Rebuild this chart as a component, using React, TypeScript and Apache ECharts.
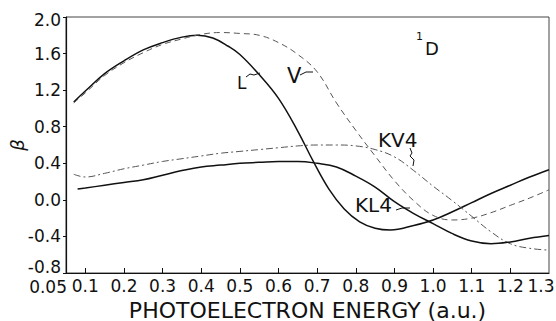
import React, { useEffect, useRef } from "react";
import * as echarts from "echarts";

// ---- data ----
const L_X = [0.07, 0.1, 0.15, 0.2, 0.25, 0.3, 0.35, 0.39, 0.43, 0.47, 0.5, 0.55, 0.6, 0.65, 0.69, 0.73, 0.77, 0.81, 0.85, 0.89, 0.95, 1.0, 1.05, 1.1, 1.15, 1.2, 1.25, 1.3];
const L_Y = [1.07, 1.19, 1.38, 1.52, 1.64, 1.72, 1.78, 1.8, 1.77, 1.68, 1.59, 1.37, 1.11, 0.75, 0.42, 0.12, -0.1, -0.24, -0.31, -0.33, -0.28, -0.22, -0.13, -0.03, 0.07, 0.16, 0.25, 0.33];

const V_X = [0.07, 0.1, 0.15, 0.2, 0.25, 0.3, 0.35, 0.4, 0.45, 0.5, 0.55, 0.6, 0.65, 0.7, 0.75, 0.8, 0.85, 0.9, 0.95, 1.0, 1.05, 1.1, 1.15, 1.2, 1.25, 1.3];
const V_Y = [1.06, 1.17, 1.36, 1.5, 1.61, 1.7, 1.76, 1.81, 1.83, 1.82, 1.8, 1.72, 1.59, 1.4, 1.06, 0.76, 0.48, 0.21, -0.01, -0.17, -0.22, -0.2, -0.14, -0.06, 0.02, 0.11];

const KV4_X = [0.07, 0.1, 0.15, 0.2, 0.25, 0.3, 0.35, 0.4, 0.45, 0.5, 0.55, 0.6, 0.65, 0.7, 0.75, 0.8, 0.85, 0.9, 0.95, 1.0, 1.05, 1.1, 1.15, 1.2, 1.25, 1.3];
const KV4_Y = [0.28, 0.25, 0.29, 0.34, 0.38, 0.42, 0.45, 0.48, 0.51, 0.53, 0.55, 0.57, 0.59, 0.6, 0.6, 0.59, 0.55, 0.47, 0.32, 0.15, -0.01, -0.18, -0.35, -0.48, -0.53, -0.55];

const KL4_X = [0.08, 0.1, 0.15, 0.2, 0.25, 0.3, 0.35, 0.4, 0.45, 0.5, 0.55, 0.6, 0.65, 0.7, 0.75, 0.8, 0.85, 0.9, 0.95, 1.0, 1.05, 1.1, 1.15, 1.2, 1.25, 1.3];
const KL4_Y = [0.12, 0.13, 0.16, 0.19, 0.22, 0.27, 0.32, 0.36, 0.38, 0.4, 0.41, 0.42, 0.42, 0.4, 0.36, 0.26, 0.14, -0.02, -0.15, -0.26, -0.37, -0.45, -0.48, -0.46, -0.42, -0.39];

const X_LABELS = [0.05, 0.1, 0.2, 0.3, 0.4, 0.5, 0.6, 0.7, 0.8, 0.9, 1.0, 1.1, 1.2, 1.3];
const X_TICKS = [0.1, 0.2, 0.3, 0.4, 0.5, 0.6, 0.7, 0.8, 0.9, 1.0, 1.1, 1.2];
const Y_MIN = -0.8;
const Y_MAX = 2.0;
const Y_STEP = 0.4;
const X_MIN = 0.05;
const X_MAX = 1.3;

const FONT = "DejaVu Sans";

function pairs(xs: number[], ys: number[]) {
  return xs.map((x, i) => [x, ys[i]]);
}

const near = (a: number, b: number) => Math.abs(a - b) < 1e-6;

export default function App() {
  const ref = useRef<HTMLDivElement>(null);
  useEffect(() => {
    if (!ref.current) return;
    const chart = echarts.init(ref.current, undefined, { renderer: "svg" });
    const ink = "#111";
    const dashInk = "#555";
    const labelFont = { fontFamily: FONT, fontSize: 17, color: ink };
    chart.setOption({
      animation: false,
      backgroundColor: "#fff",
      grid: {
        left: 66,
        top: 17,
        right: 7,
        bottom: 48,
        containLabel: false,
        outerBoundsMode: "none",
        show: true,
        borderColor: "#444",
        borderWidth: 1,
        backgroundColor: "transparent",
      },
      xAxis: {
        type: "value",
        min: X_MIN,
        max: X_MAX,
        name: "PHOTOELECTRON ENERGY (a.u.)",
        nameLocation: "middle",
        nameGap: 26,
        nameTextStyle: { fontFamily: FONT, fontSize: 22, color: ink },
        axisLine: { show: true, onZero: false, lineStyle: { color: ink, width: 1.2 } },
        axisTick: {
          show: true,
          inside: true,
          length: 5,
          customValues: X_TICKS,
          lineStyle: { color: ink },
        },
        axisLabel: {
          customValues: X_LABELS.filter((v) => v > X_MIN + 1e-6),
          showMinLabel: true,
          showMaxLabel: true,
          hideOverlap: false,
          margin: 4,
          ...labelFont,
          formatter: (v: number) => (near(v, X_MAX) ? `{last|${v.toFixed(1)}}` : v.toFixed(1)),
          rich: {
            last: { ...labelFont, padding: [0, 16, 0, 0] },
          },
        },
        splitLine: { show: false },
      },
      yAxis: {
        type: "value",
        min: Y_MIN,
        max: Y_MAX,
        interval: Y_STEP,
        name: "β",
        nameLocation: "middle",
        nameGap: 40,
        nameRotate: 90,
        nameMoveOverlap: false,
        nameTextStyle: { fontFamily: FONT, fontSize: 18, fontStyle: "italic", color: ink },
        axisLine: { show: true, onZero: false, lineStyle: { color: ink, width: 1.2 } },
        axisTick: { show: true, inside: false, length: 3, lineStyle: { color: ink } },
        axisLabel: {
          margin: 5,
          ...labelFont,
          showMinLabel: true,
          showMaxLabel: true,
          formatter: (v: number) => {
            const s = v.toFixed(1);
            if (near(v, Y_MAX)) return `{top|${s}}`;
            if (near(v, Y_MIN)) return `{bot|${s}}`;
            return s;
          },
          rich: {
            top: { ...labelFont, padding: [6, 0, 0, 0] },
            bot: { ...labelFont, padding: [0, 0, 13, 0] },
          },
        },
        splitLine: { show: false },
      },
      series: [
        {
          name: "L",
          type: "line",
          data: pairs(L_X, L_Y),
          smooth: 0.4,
          showSymbol: false,
          lineStyle: { color: ink, width: 1.5 },
        },
        {
          name: "V",
          type: "line",
          data: pairs(V_X, V_Y),
          smooth: 0.4,
          showSymbol: false,
          lineStyle: { color: dashInk, width: 1, type: [6, 4] },
        },
        {
          name: "KV4",
          type: "line",
          data: pairs(KV4_X, KV4_Y),
          smooth: 0.4,
          showSymbol: false,
          lineStyle: { color: dashInk, width: 1, type: [7, 3, 2, 3] },
        },
        {
          name: "KL4",
          type: "line",
          data: pairs(KL4_X, KL4_Y),
          smooth: 0.4,
          showSymbol: false,
          lineStyle: { color: ink, width: 1.5 },
        },
      ],
      graphic: [
        {
          type: "text",
          x: 67,
          y: 278,
          style: { text: "0.05", fontFamily: FONT, fontSize: 17, fill: ink, align: "right", verticalAlign: "top" },
        },
        { type: "text", left: 237, top: 74, style: { text: "L", fontFamily: FONT, fontSize: 17, fill: ink } },
        { type: "polyline", shape: { points: [[246, 77], [250, 74], [254, 75], [260, 73]] }, style: { stroke: ink, lineWidth: 1, fill: null } },
        { type: "text", left: 287, top: 65, style: { text: "V", fontFamily: FONT, fontSize: 21, fill: ink } },
        { type: "polyline", shape: { points: [[300, 75], [306, 72], [313, 72]] }, style: { stroke: ink, lineWidth: 1, fill: null } },
        { type: "text", left: 378, top: 130, style: { text: "KV4", fontFamily: FONT, fontSize: 20, fill: ink } },
        { type: "polyline", shape: { points: [[410, 148], [412, 153], [410, 156], [414, 160], [413, 166]] }, style: { stroke: ink, lineWidth: 1, fill: null } },
        { type: "text", left: 355, top: 195, style: { text: "KL4", fontFamily: FONT, fontSize: 20, fill: ink } },
        { type: "polyline", shape: { points: [[396, 210], [402, 208], [410, 208]] }, style: { stroke: ink, lineWidth: 1, fill: null } },
        { type: "text", left: 416, top: 31, style: { text: "1", fontFamily: FONT, fontSize: 11, fill: ink } },
        { type: "text", left: 425, top: 39, style: { text: "D", fontFamily: FONT, fontSize: 18, fill: ink } },
      ],
    });
    return () => chart.dispose();
  }, []);
  return (
    <div
      ref={ref}
      style={{ position: "fixed", left: 0, top: 0, width: 556, height: 321, background: "#fff" }}
    />
  );
}
